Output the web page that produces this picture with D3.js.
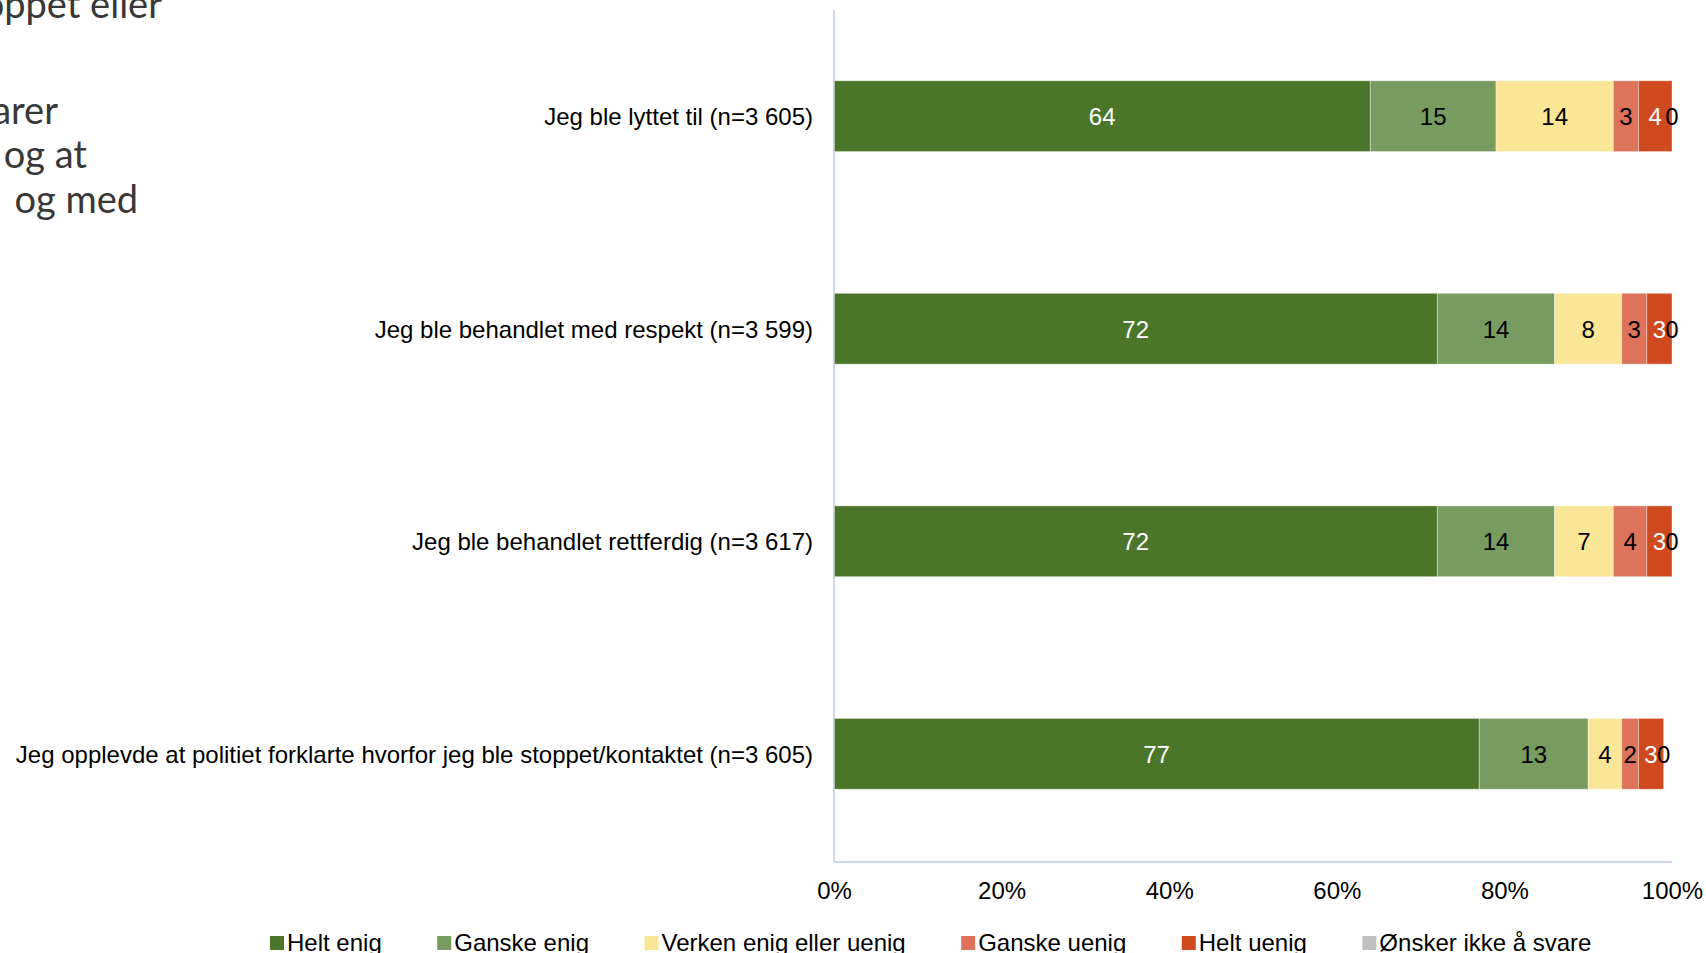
<!DOCTYPE html>
<html>
<head>
<meta charset="utf-8">
<script src="https://cdn.jsdelivr.net/npm/d3@7"></script>
<style>
  html, body { margin: 0; padding: 0; background: #fff; overflow: hidden; }
  svg { display: block; }
</style>
</head>
<body>
<svg id="chart" width="1706" height="953"></svg>
<script>
// categories (top to bottom)
const categories = [
  "Jeg ble lyttet til (n=3 605)",
  "Jeg ble behandlet med respekt (n=3 599)",
  "Jeg ble behandlet rettferdig (n=3 617)",
  "Jeg opplevde at politiet forklarte hvorfor jeg ble stoppet/kontaktet (n=3 605)"
];

// series names, in stacking order
const seriesNames = ["Helt enig", "Ganske enig", "Verken enig eller uenig", "Ganske uenig", "Helt uenig", "Ønsker ikke å svare"];
const seriesColors = ["#4b7629", "#789b60", "#f9e797", "#dc735a", "#cf4a1f", "#c0c0c0"];
const labelColors = ["#fff", "#000", "#000", "#000", "#fff", "#000"];

// values per series, one per category
const heltEnig    = [64, 72, 72, 77];
const ganskeEnig  = [15, 14, 14, 13];
const verken      = [14, 8, 7, 4];
const ganskeUenig = [3, 3, 4, 2];
const heltUenig   = [4, 3, 3, 3];
const onskerIkke  = [0, 0, 0, 0];

const tickValues = [0, 20, 40, 60, 80, 100];

// title text (only the tail is visible, the rest runs off the left edge)
const titleLines = [
  "Figur 4.3 Andel blant de som ble stoppet eller",
  "kontaktet av politiet, fordelt etter hva de svarer",
  "på om de ble lyttet til, behandlet med respekt\u00a0\u00a0og at",
  "politiet forklarte hvorfor de ble stoppet\u00a0\u00a0\u00a0og med"
];

const seriesValues = [heltEnig, ganskeEnig, verken, ganskeUenig, heltUenig, onskerIkke];

const rows = categories.map((c, i) => {
  const r = { cat: c };
  seriesNames.forEach((s, j) => { r[s] = seriesValues[j][i]; });
  return r;
});

const svg = d3.select("#chart");
const font = "'Liberation Sans', Arial, sans-serif";

const x = d3.scaleLinear().domain([0, 100]).range([834, 1672]);
const y = d3.scaleBand().domain(categories).range([10, 860])
  .paddingInner(0.667).paddingOuter(0.333);

const stack = d3.stack().keys(seriesNames);
const stacked = stack(rows);

// title, clipped on the left
const title = svg.append("g")
  .attr("font-family", "Lato, 'Open Sans', sans-serif")
  .attr("font-size", 38)
  .attr("fill", "#383838")
  .attr("text-anchor", "end");
const titlePos = [[162, 18], [58, 124], [87, 168], [138, 213]];
title.selectAll("text").data(titleLines).join("text")
  .attr("x", (d, i) => titlePos[i][0])
  .attr("y", (d, i) => titlePos[i][1])
  .text(d => d);

// bars
const layers = svg.append("g").selectAll("g")
  .data(stacked)
  .join("g")
    .attr("fill", (d, i) => seriesColors[i]);

layers.selectAll("rect")
  .data(d => d)
  .join("rect")
    .attr("x", d => x(d[0]))
    .attr("y", d => y(d.data.cat))
    .attr("width", d => x(d[1]) - x(d[0]))
    .attr("height", y.bandwidth())
    .attr("stroke", "#fff")
    .attr("stroke-opacity", 0.35)
    .attr("stroke-width", 1);

// data labels
const labels = svg.append("g")
  .attr("font-family", font)
  .attr("font-size", 24)
  .attr("text-anchor", "middle");

stacked.forEach((layer, i) => {
  labels.selectAll(null)
    .data(layer)
    .join("text")
      .attr("x", d => (x(d[0]) + x(d[1])) / 2)
      .attr("y", d => y(d.data.cat) + y.bandwidth() / 2)
      .attr("dy", "0.38em")
      .attr("fill", labelColors[i])
      .text(d => d[1] - d[0]);
});

// axis lines
const axisColor = "#bccde0";
svg.append("line")
  .attr("x1", x(0)).attr("x2", x(0))
  .attr("y1", 10).attr("y2", 862)
  .attr("stroke", axisColor).attr("stroke-width", 1.5);
svg.append("line")
  .attr("x1", x(0)).attr("x2", x(100))
  .attr("y1", 862).attr("y2", 862)
  .attr("stroke", axisColor).attr("stroke-width", 1.5);

// category labels
svg.append("g")
  .attr("font-family", font)
  .attr("font-size", 24)
  .attr("text-anchor", "end")
  .selectAll("text")
  .data(categories)
  .join("text")
    .attr("x", x(0) - 21)
    .attr("y", d => y(d) + y.bandwidth() / 2)
    .attr("dy", "0.38em")
    .attr("fill", "#000")
    .text(d => d);

// x axis tick labels
const xAxis = d3.axisBottom(x)
  .tickValues(tickValues)
  .tickFormat(d => d + "%")
  .tickSize(0)
  .tickPadding(20);
const gx = svg.append("g")
  .attr("transform", "translate(0,862)")
  .call(xAxis);
gx.select(".domain").remove();
gx.selectAll("text")
  .attr("font-family", font)
  .attr("font-size", 24)
  .attr("fill", "#000");

// legend
const legend = svg.append("g")
  .attr("font-family", font)
  .attr("font-size", 24);
let lx = 270;
seriesNames.forEach((s, i) => {
  legend.append("rect")
    .attr("x", lx).attr("y", 936)
    .attr("width", 14).attr("height", 14)
    .attr("fill", seriesColors[i]);
  const t = legend.append("text")
    .attr("x", lx + 17).attr("y", 951)
    .attr("fill", "#000")
    .text(s);
  lx += 17 + t.node().getComputedTextLength() + 55.5;
});
</script>
</body>
</html>
